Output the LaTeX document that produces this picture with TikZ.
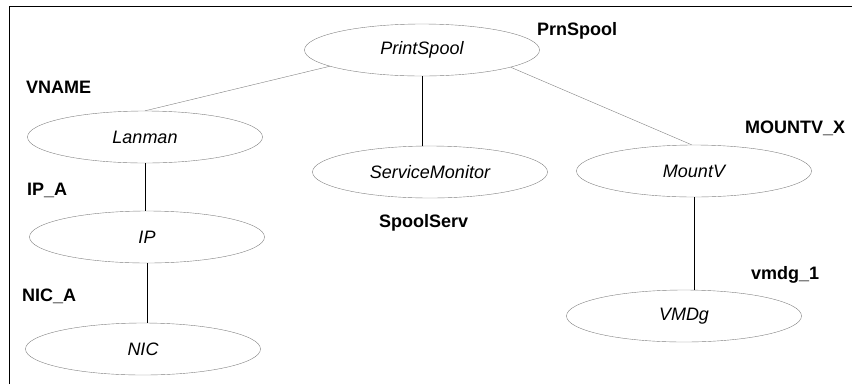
\documentclass[tikz,border=0pt]{standalone}
\usepackage{fontspec}
\setmainfont{Liberation Sans}
\usetikzlibrary{shapes.geometric}
\usetikzlibrary{positioning}

\tikzset{
  res/.style={ellipse,draw=gray,thin,minimum width=235pt,minimum height=52pt,inner sep=0pt,
    font=\fontsize{18}{21}\selectfont\itshape},
  rname/.style={anchor=base west,inner sep=0pt,font=\fontsize{18}{21}\selectfont\bfseries},
  dep/.style={draw=gray,thin},
  vdep/.style={draw=black,semithick}
}

\begin{document}
\begin{tikzpicture}[x=1pt,y=-1pt]
            \useasboundingbox (0,0) rectangle (852,384);
            \draw[semithick] (9,384) -- (9,6) -- (852,6);

            \node[res] (ps) at (422,50) {PrintSpool};
            \node[res] (lan) at (145,137) {Lanman};
            \node[res] (sm) at (430,172) {ServiceMonitor};
            \node[res] (mv) at (694,171) {MountV};
            \node[res] (ip) at (147,237) {IP};
            \node[res] (nic) at (143,349) {NIC};
            \node[res] (vmdg) at (684,316) {VMDg};

            \node[rname] (prn) at (537,35) {PrnSpool};
            \node[rname] (vname) at (26,93) {VNAME};
            \node[rname] (mountx) at (745,133) {MOUNTV\_X};
            \node[rname] (ipa) at (27,195) {IP\_A};
            \node[rname] (spserv) at (379,227) {SpoolServ};
            \node[rname] (nica) at (22,301) {NIC\_A};
            \node[rname] (vmdg1) at (751,279) {vmdg\_1};

            \draw[dep] (ps.190) -- (lan.north);
            \draw[dep] (ps.349) -- (mv.95);
            \draw[vdep] (ps.south) -- (ps.south |- sm.north);
            \draw[vdep] (lan.south) -- (lan.south |- ip.north);
            \draw[vdep] (ip.south) -- (ip.south |- nic.north);
            \draw[vdep] (mv.south) -- (mv.south |- vmdg.north);
          \end{tikzpicture}
\end{document}
